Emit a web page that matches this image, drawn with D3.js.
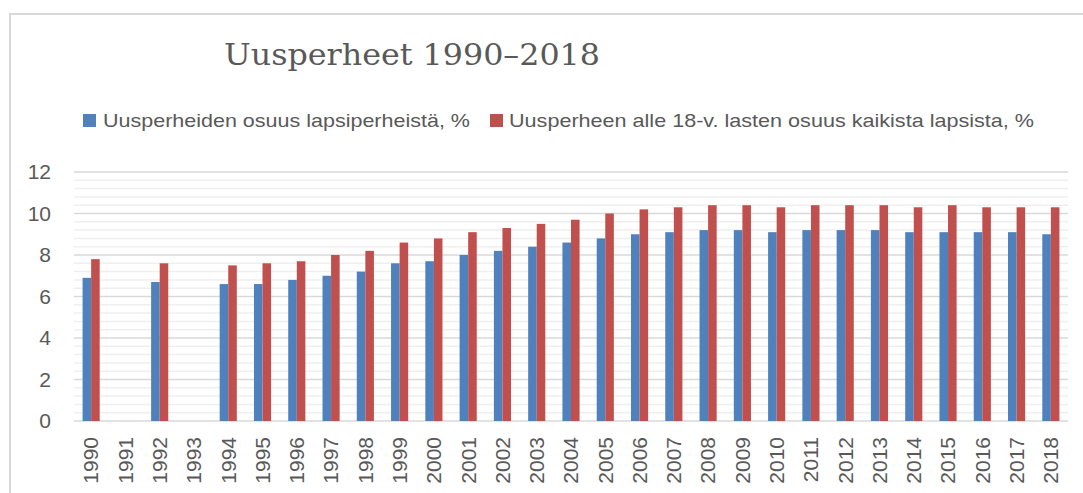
<!DOCTYPE html>
<html>
<head>
<meta charset="utf-8">
<script src="https://cdn.jsdelivr.net/npm/d3@7"></script>
<style>
  html, body { margin: 0; padding: 0; background: #fff; }
  svg { display: block; }
</style>
</head>
<body>
<svg id="chart" width="1083" height="493"></svg>
<script>
const years = ["1990","1991","1992","1993","1994","1995","1996","1997","1998","1999","2000","2001","2002","2003","2004","2005","2006","2007","2008","2009","2010","2011","2012","2013","2014","2015","2016","2017","2018"];
const shareFamilies = [6.9,null,6.7,null,6.6,6.6,6.8,7.0,7.2,7.6,7.7,8.0,8.2,8.4,8.6,8.8,9.0,9.1,9.2,9.2,9.1,9.2,9.2,9.2,9.1,9.1,9.1,9.1,9.0];
const shareChildren = [7.8,null,7.6,null,7.5,7.6,7.7,8.0,8.2,8.6,8.8,9.1,9.3,9.5,9.7,10.0,10.2,10.3,10.4,10.4,10.3,10.4,10.4,10.4,10.3,10.4,10.3,10.3,10.3];
const seriesNames = ["Uusperheiden osuus lapsiperheistä, %","Uusperheen alle 18-v. lasten osuus kaikista lapsista, %"];
const yTicks = [0,2,4,6,8,10,12];
const titleText = "Uusperheet 1990–2018";

const colors = ["#4F81BD","#C0504D"];
const svg = d3.select("#chart");
const textColor = "#595959";

// chart border (top & left)
svg.append("path").attr("d","M10,493 V14 H1083").attr("fill","none").attr("stroke","#d9d9d9").attr("stroke-width",2);

const plot = {left:74, right:1068, top:172, bottom:421};
const x = d3.scaleBand().domain(years).range([plot.left, plot.right]).padding(0);
const bw = x.bandwidth();
const x1 = d3.scaleBand().domain([0,1]).range([bw*0.25, bw*0.75]).padding(0);
const y = d3.scaleLinear().domain([0,12]).range([plot.bottom, plot.top]);

// minor gridlines
const minor = d3.range(0, 12.0001, 0.4).filter(v => Math.abs(v/2 - Math.round(v/2)) > 1e-6);
svg.append("g").selectAll("line").data(minor).join("line")
  .attr("x1",plot.left).attr("x2",plot.right)
  .attr("y1",d=>y(d)).attr("y2",d=>y(d))
  .attr("stroke","#efefef").attr("stroke-width",1.5);
// major gridlines
svg.append("g").selectAll("line").data(yTicks).join("line")
  .attr("x1",plot.left).attr("x2",plot.right)
  .attr("y1",d=>y(d)).attr("y2",d=>y(d))
  .attr("stroke","#d9d9d9").attr("stroke-width",1.5);

// y axis labels
const yAxis = d3.axisLeft(y).tickValues(yTicks).tickSize(0).tickPadding(0);
const gy = svg.append("g").attr("transform",`translate(51,0)`).call(yAxis);
gy.select(".domain").remove();
gy.selectAll("text").attr("fill",textColor).style("font-family","'Liberation Sans', Arial, sans-serif").style("font-size","21px");

// bars
const data = [shareFamilies, shareChildren];
data.forEach((vals, si) => {
  svg.append("g").selectAll("rect")
    .data(years.map((yr,i)=>({yr, v:vals[i]})).filter(d=>d.v!=null))
    .join("rect")
    .attr("x", d => x(d.yr) + x1(si))
    .attr("width", x1.bandwidth())
    .attr("y", d => y(d.v))
    .attr("height", d => y(0) - y(d.v))
    .attr("fill", colors[si]);
});

// x axis labels
const xAxis = d3.axisBottom(x).tickSize(0).tickPadding(0);
const gx = svg.append("g").attr("transform",`translate(0,${plot.bottom})`).call(xAxis);
gx.select(".domain").remove();
gx.selectAll("text")
  .attr("fill",textColor)
  .style("font-family","'Liberation Sans', Arial, sans-serif").style("font-size","21px")
  .attr("text-anchor","end")
  .attr("transform","rotate(-90)")
  .attr("x",-16).attr("y",0).attr("dy","0.35em");

// title
svg.append("text").attr("x",224).attr("y",65).text(titleText)
  .attr("fill",textColor)
  .style("font-family","'DejaVu Serif', 'Liberation Serif', serif").style("font-size","30px")
  .attr("textLength",376).attr("lengthAdjust","spacingAndGlyphs");

// legend
const legendItems = [
  {sx:83, tx:103, tl:367},
  {sx:490, tx:509, tl:525}
];
legendItems.forEach((it,i) => {
  svg.append("rect").attr("x",it.sx).attr("y",114).attr("width",13).attr("height",13).attr("fill",colors[i]);
  svg.append("text").attr("x",it.tx).attr("y",127).text(seriesNames[i])
    .attr("fill",textColor)
    .style("font-family","'Liberation Sans', Arial, sans-serif").style("font-size","19px")
    .attr("textLength",it.tl).attr("lengthAdjust","spacingAndGlyphs");
});
</script>
</body>
</html>
